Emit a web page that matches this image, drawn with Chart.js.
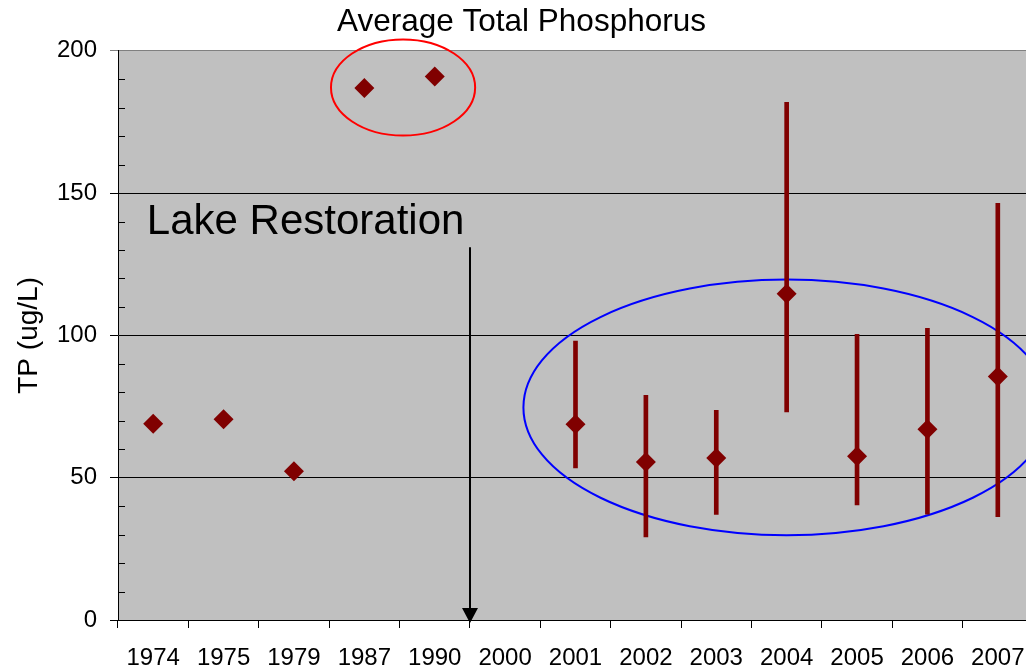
<!DOCTYPE html>
<html>
<head>
<meta charset="utf-8">
<script src="https://cdn.jsdelivr.net/npm/chart.js@4.4.3/dist/chart.umd.min.js"></script>
<style>
  html, body { margin: 0; padding: 0; background: #fff; overflow: hidden; }
  #wrap { width: 1043px; height: 672px; }
</style>
</head>
<body>
<div id="wrap"><canvas id="tpChart" width="1043" height="672"></canvas></div>
<script>
// sampling years on the x axis
const years = ['1974', '1975', '1979', '1987', '1990', '2000', '2001', '2002', '2003', '2004', '2005', '2006', '2007'];
// average total phosphorus per year (ug/L), 2000 has no sample
const avgTP = [69, 70.5, 52.3, 186.9, 191, null, 68.8, 55.5, 56.9, 114.6, 57.5, 67, 85.6];
// low / high of the range for the recent years
const lowTP = [null, null, null, null, null, null, 53.4, 29.2, 37.1, 73.1, 40.4, 37.2, 36.3];
const highTP = [null, null, null, null, null, null, 98.0, 78.9, 73.7, 181.9, 100.4, 102.5, 146.4];
const yTicks = [0, 50, 100, 150, 200];

const FONT = "'Liberation Sans', Arial, sans-serif";
const DARK_RED = '#800000';

// grey plot area like the old excel charts
const plotBg = {
  id: 'plotBg',
  beforeDraw(chart) {
    const {ctx, chartArea: a} = chart;
    ctx.save();
    ctx.fillStyle = '#c0c0c0';
    ctx.fillRect(a.left, a.top, a.right - a.left, a.bottom - a.top);
    ctx.restore();
  }
};

// minor ticks on the y axis (inside), every 10
const minorTicks = {
  id: 'minorTicks',
  beforeDatasetsDraw(chart) {
    const {ctx, chartArea: a, scales: {y}} = chart;
    ctx.save();
    ctx.strokeStyle = '#000';
    ctx.lineWidth = 1;
    for (let v = 10; v < 200; v += 10) {
      if (v % 50 === 0) continue;
      const py = Math.round(y.getPixelForValue(v)) + 0.5;
      ctx.beginPath();
      ctx.moveTo(a.left, py);
      ctx.lineTo(a.left + 7, py);
      ctx.stroke();
    }
    ctx.restore();
  }
};

// circles, label and arrow drawn on the plot
const notes = {
  id: 'notes',
  beforeDatasetsDraw(chart) {
    const {ctx, scales: {x, y}} = chart;
    const catW = x.getPixelForValue(1) - x.getPixelForValue(0);
    const unitH = y.getPixelForValue(0) - y.getPixelForValue(1);
    ctx.save();

    // red ring round the 1987/1990 values
    ctx.strokeStyle = '#ff0000';
    ctx.lineWidth = 2;
    ctx.beginPath();
    ctx.ellipse(x.getPixelForValue(3.55), y.getPixelForValue(187.1), 1.024 * catW, 16.9 * unitH, 0, 0, Math.PI * 2);
    ctx.stroke();

    // blue ring round the recent years
    ctx.strokeStyle = '#0000ff';
    ctx.beginPath();
    ctx.ellipse(x.getPixelForValue(9.0), y.getPixelForValue(74.7), 3.74 * catW, 44.9 * unitH, 0, 0, Math.PI * 2);
    ctx.stroke();

    // label
    ctx.fillStyle = '#000';
    ctx.font = '42px ' + FONT;
    ctx.textAlign = 'left';
    ctx.textBaseline = 'alphabetic';
    ctx.fillText('Lake Restoration', x.getPixelForValue(-0.09), y.getPixelForValue(135.8));

    // arrow down to the restoration year boundary
    const ax = Math.round(x.getPixelForValue(4.5));
    const top = y.getPixelForValue(131);
    const tip = y.getPixelForValue(0) + 3;
    ctx.strokeStyle = '#000';
    ctx.lineWidth = 2;
    ctx.beginPath();
    ctx.moveTo(ax, top);
    ctx.lineTo(ax, tip - 10);
    ctx.stroke();
    ctx.beginPath();
    ctx.moveTo(ax - 8, tip - 15);
    ctx.lineTo(ax + 8, tip - 15);
    ctx.lineTo(ax, tip);
    ctx.closePath();
    ctx.fill();

    ctx.restore();
  }
};

const ranges = lowTP.map((lo, i) => (lo == null ? null : [lo, highTP[i]]));

new Chart(document.getElementById('tpChart'), {
  type: 'bar',
  data: {
    labels: years,
    datasets: [
      {
        type: 'line',
        label: 'Average TP',
        data: avgTP,
        showLine: false,
        pointStyle: 'rectRot',
        pointRadius: 10,
        pointBackgroundColor: DARK_RED,
        pointBorderColor: DARK_RED,
        pointBorderWidth: 0,
        order: 0
      },
      {
        label: 'Range',
        data: ranges,
        backgroundColor: DARK_RED,
        barThickness: 4,
        borderWidth: 0,
        order: 1
      }
    ]
  },
  options: {
    responsive: false,
    animation: false,
    layout: { padding: 0 },
    plugins: {
      legend: { display: false },
      tooltip: { enabled: false },
      title: {
        display: true,
        text: 'Average Total Phosphorus',
        color: '#000',
        font: { family: FONT, size: 31.5, weight: 'normal' },
        padding: { top: 3, bottom: 10 }
      }
    },
    scales: {
      x: {
        offset: true,
        grid: {
          offset: true,
          drawOnChartArea: false,
          drawTicks: true,
          tickLength: 8,
          color: '#000'
        },
        border: { color: '#000', width: 1 },
        ticks: {
          color: '#000',
          font: { family: FONT, size: 24 },
          padding: 16,
          maxRotation: 0,
          autoSkip: false
        },
        afterFit: s => { s.height = 52; }
      },
      y: {
        min: 0,
        max: 200,
        afterBuildTicks: s => { s.ticks = yTicks.map(v => ({ value: v })); },
        grid: {
          color: c => (c.tick && c.tick.value === 200 ? '#808080' : '#000'),
          tickLength: 8,
          drawTicks: true
        },
        border: { color: '#000', width: 1 },
        ticks: {
          color: '#000',
          font: { family: FONT, size: 24 },
          padding: 13
        },
        title: {
          display: true,
          text: 'TP (ug/L)',
          color: '#000',
          font: { family: FONT, size: 28 },
          padding: { top: 12, bottom: 0 }
        },
        afterFit: s => { s.width = 118; }
      }
    }
  },
  plugins: [plotBg, minorTicks, notes]
});
</script>
</body>
</html>
